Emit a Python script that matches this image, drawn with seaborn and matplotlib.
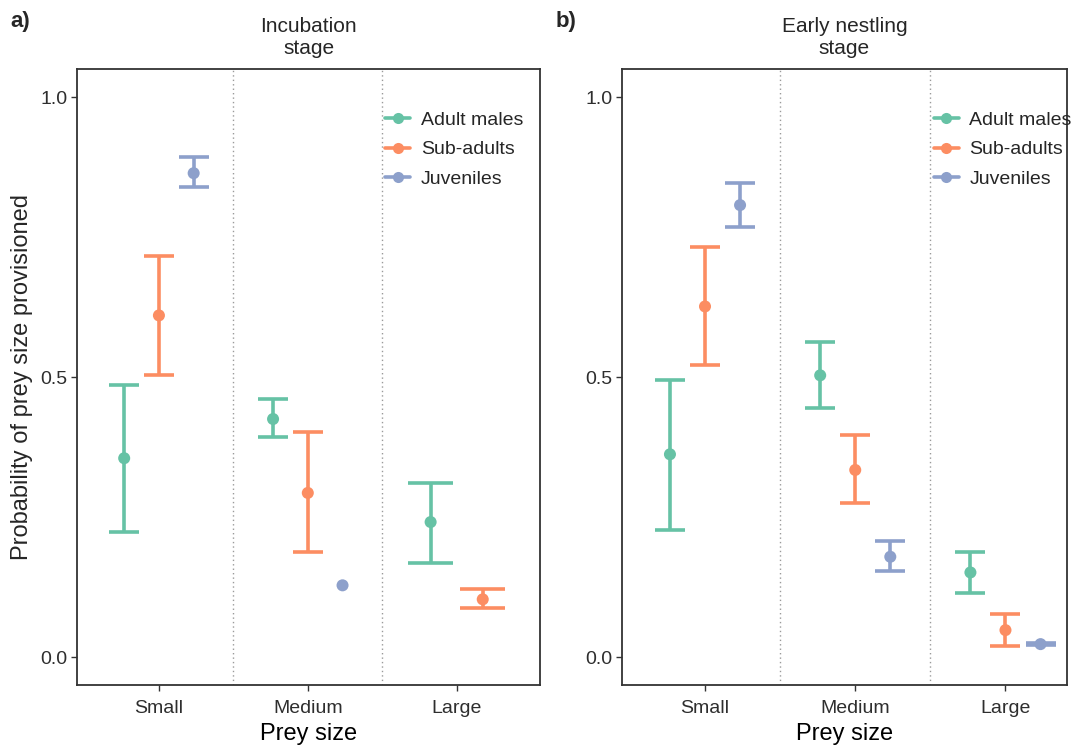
import numpy as np
import pandas as pd
import matplotlib
matplotlib.use("Agg")
import matplotlib.pyplot as plt
from matplotlib.lines import Line2D
import seaborn as sns

# Prey-size categories, provisioner classes and the two breeding stages
sizes = ["Small", "Medium", "Large"]
groups = ["Adult males", "Sub-adults", "Juveniles"]
stages = ["Incubation\nstage", "Early nestling\nstage"]
panel_tags = ["a)", "b)"]

# Incubation stage: estimate, lower and upper limits (Small, Medium, Large)
inc_males_est = [0.355, 0.425, 0.241]
inc_males_lo = [0.224, 0.392, 0.167]
inc_males_hi = [0.485, 0.460, 0.310]
inc_sub_est = [0.610, 0.293, 0.103]
inc_sub_lo = [0.503, 0.188, 0.087]
inc_sub_hi = [0.716, 0.401, 0.121]
inc_juv_est = [0.864, 0.128, np.nan]
inc_juv_lo = [0.839, np.nan, np.nan]
inc_juv_hi = [0.892, np.nan, np.nan]

# Early nestling stage
nest_males_est = [0.362, 0.503, 0.151]
nest_males_lo = [0.227, 0.444, 0.114]
nest_males_hi = [0.494, 0.563, 0.188]
nest_sub_est = [0.626, 0.334, 0.048]
nest_sub_lo = [0.522, 0.275, 0.020]
nest_sub_hi = [0.732, 0.396, 0.076]
nest_juv_est = [0.807, 0.179, 0.023]
nest_juv_lo = [0.768, 0.153, 0.021]
nest_juv_hi = [0.846, 0.207, 0.025]

y_ticks = [0.0, 0.5, 1.0]
y_tick_labels = ["0.0", "0.5", "1.0"]


def build_frame(stage, est, lo, hi):
    rows = []
    for g, e, l, h in zip(groups, est, lo, hi):
        for i, s in enumerate(sizes):
            if not np.isnan(e[i]):
                rows.append(dict(stage=stage, group=g, size=s,
                                 est=e[i], lo=l[i], hi=h[i]))
    return pd.DataFrame(rows)


frames = [
    build_frame(stages[0],
                [inc_males_est, inc_sub_est, inc_juv_est],
                [inc_males_lo, inc_sub_lo, inc_juv_lo],
                [inc_males_hi, inc_sub_hi, inc_juv_hi]),
    build_frame(stages[1],
                [nest_males_est, nest_sub_est, nest_juv_est],
                [nest_males_lo, nest_sub_lo, nest_juv_lo],
                [nest_males_hi, nest_sub_hi, nest_juv_hi]),
]

palette = dict(zip(groups, sns.color_palette("Set2", 3)))

sns.set_style("white")
plt.rcParams["font.family"] = ["Liberation Sans", "DejaVu Sans"]

DODGE = 0.7
CAP = 0.6


def add_positions(df):
    # dodge within each prey-size category among the classes present there
    df = df.copy()
    xs, caps = [], []
    for _, r in df.iterrows():
        present = [g for g in groups
                   if ((df["size"] == r["size"]) & (df["group"] == g)).any()]
        n = len(present)
        k = present.index(r["group"])
        base = sizes.index(r["size"]) + 1
        xs.append(base + (k - (n - 1) / 2) * DODGE / n)
        caps.append(CAP / n)
    df["x"] = xs
    df["cap"] = caps
    return df


fig = plt.figure(figsize=(10.76, 7.47), dpi=100)
axes = [fig.add_axes([0.0716, 0.083, 0.4303, 0.8246]),
        fig.add_axes([0.578, 0.083, 0.4137, 0.8246])]
x_limits = [(0.45, 3.56), (0.447, 3.41)]
legend_x = [0.665, 0.70]

for ax, df, title, tag, xl, lx in zip(axes, frames, stages, panel_tags,
                                      x_limits, legend_x):
    df = add_positions(df)
    for _, r in df.iterrows():
        c = palette[r["group"]]
        if not np.isnan(r["lo"]):
            ax.vlines(r["x"], r["lo"], r["hi"], color=c, lw=2.6, zorder=2)
            ax.hlines([r["lo"], r["hi"]], r["x"] - r["cap"] / 2,
                      r["x"] + r["cap"] / 2, color=c, lw=2.6, zorder=2)
    sns.scatterplot(data=df, x="x", y="est", hue="group", palette=palette,
                    hue_order=groups, s=75, edgecolor="none", legend=False,
                    ax=ax, zorder=3)
    for b in (1.5, 2.5):
        ax.axvline(b, color="#9a9a9a", lw=1.0, ls=(0, (1, 2.2)), zorder=1)

    ax.set_xlim(*xl)
    ax.set_ylim(-0.05, 1.05)
    ax.set_xticks([1, 2, 3])
    ax.set_xticklabels(sizes)
    ax.set_yticks(y_ticks)
    ax.set_yticklabels(y_tick_labels)
    ax.tick_params(axis="both", labelsize=14, colors="#333333",
                   labelcolor="#2e2e2e", length=4, width=1.0, direction="out",
                   bottom=True, left=True)
    ax.tick_params(axis="x", pad=7)
    ax.tick_params(axis="y", pad=3)
    ax.set_xlabel("Prey size", fontsize=17, color="black", labelpad=4)
    ax.set_ylabel("", fontsize=17)
    for sp in ax.spines.values():
        sp.set_color("#333333")
        sp.set_linewidth(1.3)
    ax.set_title(title, fontsize=15, pad=11, linespacing=1.2)

    handles = [Line2D([0], [0], color=palette[g], lw=2.6, marker="o",
                      markersize=8, markeredgewidth=0) for g in groups]
    ax.legend(handles, groups, loc="upper left", bbox_to_anchor=(lx, 0.931),
              frameon=False, fontsize=14, handlelength=1.3,
              handletextpad=0.55, labelspacing=0.6, borderaxespad=0,
              borderpad=0)

    bbox = ax.get_position()
    fig.text(bbox.x0 - 0.062, 0.971, tag, fontsize=16, fontweight="bold",
             va="center", ha="left")

axes[0].set_ylabel("Probability of prey size provisioned", fontsize=17,
                   labelpad=5)

fig.savefig("out.png", dpi=100, facecolor="white")
